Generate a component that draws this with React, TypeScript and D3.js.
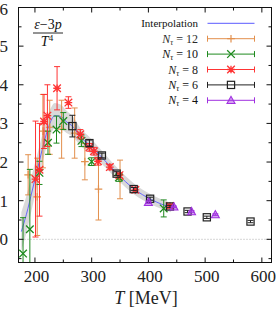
import React from 'react';
import * as d3 from 'd3';

// interpolation curve with its error band
const interpT = [176, 185, 195, 205, 215, 225, 235, 245, 255, 268, 280, 296, 318, 345, 375, 405, 440];
const interpV = [0.2, 0.65, 1.25, 1.85, 2.45, 2.95, 3.2, 3.18, 3.05, 2.9, 2.65, 2.45, 2.12, 1.7, 1.3, 1.03, 0.82];
const interpErr = [0.5, 0.48, 0.44, 0.4, 0.36, 0.34, 0.33, 0.31, 0.29, 0.26, 0.23, 0.2, 0.17, 0.15, 0.14, 0.13, 0.12];

const nt12T = [188, 204, 214, 226, 247, 270, 288, 312, 350];
const nt12V = [1.67, 1.1, 2.8, 2.9, 2.85, 2.75, 2.01, 1.3, 1.55];
const nt12E = [0.52, 1.0, 0.95, 0.7, 0.75, 0.65, 0.47, 0.8, 0.5];

const nt10T = [179, 191, 208, 223, 238, 250, 282, 300, 348, 427];
const nt10V = [-0.37, 0.26, 1.72, 2.5, 2.84, 3.06, 2.55, 2.01, 1.6, 0.8];
const nt10E = [0.93, 1.55, 0.3, 0.3, 0.35, 0.22, 0.15, 0.1, 0.1, 0.22];

const nt8T = [201, 208, 216, 222, 239, 259, 280, 296, 304, 311, 332, 349, 377, 438];
const nt8V = [1.56, 1.8, 3.05, 3.2, 3.91, 3.54, 2.72, 2.38, 2.28, 2.02, 1.87, 1.66, 1.28, 0.86];
const nt8E = [1.5, 1.2, 0.7, 0.8, 0.56, 0.15, 0.12, 0.1, 0.1, 0.1, 0.07, 0.06, 0.06, 0.05];

const nt6T = [266, 296, 318, 344, 374, 403, 438, 469, 503, 580];
const nt6V = [2.93, 2.49, 2.17, 1.7, 1.3, 1.05, 0.85, 0.72, 0.57, 0.46];
const nt6E = [0.28, 0.08, 0.06, 0.05, 0.04, 0.04, 0.03, 0.03, 0.03, 0.03];

const nt4T = [400, 445, 476, 518];
const nt4V = [0.96, 0.84, 0.72, 0.64];
const nt4E = [0.03, 0.02, 0.02, 0.02];

const xTicks = [200, 300, 400, 500, 600];
const yTicks = [0, 1, 2, 3, 4, 5, 6];

const W = 279;
const H = 313;
const font = '"Liberation Serif", "DejaVu Serif", serif';

const x = d3.scaleLinear().domain([171, 617]).range([18.5, 271.5]);
const y = d3.scaleLinear().domain([-0.6, 6]).range([262.5, 7.5]);

function Marker({ kind, cx, cy, color }) {
  const s = 3.8;
  if (kind === 'plus') {
    return <path d={`M${cx - s},${cy}H${cx + s}M${cx},${cy - s}V${cy + s}`} stroke={color} strokeWidth={1.2} fill="none" />;
  }
  if (kind === 'cross') {
    return <path d={`M${cx - s},${cy - s}L${cx + s},${cy + s}M${cx - s},${cy + s}L${cx + s},${cy - s}`} stroke={color} strokeWidth={1.3} fill="none" />;
  }
  if (kind === 'star') {
    return <path d={`M${cx - s},${cy}H${cx + s}M${cx},${cy - s}V${cy + s}M${cx - s},${cy - s}L${cx + s},${cy + s}M${cx - s},${cy + s}L${cx + s},${cy - s}`} stroke={color} strokeWidth={1.3} fill="none" />;
  }
  if (kind === 'square') {
    return <rect x={cx - 3.6} y={cy - 3.6} width={7.2} height={7.2} stroke={color} strokeWidth={1.2} fill="none" />;
  }
  return <path d={`M${cx - 4},${cy + 3.2}L${cx + 4},${cy + 3.2}L${cx},${cy - 4}Z`} stroke={color} strokeWidth={1.1} fill={color} fillOpacity={0.45} />;
}

function Series({ ts, vs, es, color, kind, opacity = 1 }) {
  const cap = 3;
  return (
    <g opacity={opacity}>
      {ts.map((t, i) => {
        const cx = x(t);
        const y1 = y(vs[i] + es[i]);
        const y2 = y(vs[i] - es[i]);
        return (
          <g key={i}>
            <path d={`M${cx},${y1}V${y2}M${cx - cap},${y1}H${cx + cap}M${cx - cap},${y2}H${cx + cap}`} stroke={color} strokeWidth={1} fill="none" />
            <Marker kind={kind} cx={cx} cy={y(vs[i])} color={color} />
          </g>
        );
      })}
    </g>
  );
}

const series = [
  { label: '12', ts: nt12T, vs: nt12V, es: nt12E, color: '#e0843a', kind: 'plus', opacity: 0.9 },
  { label: '10', ts: nt10T, vs: nt10V, es: nt10E, color: '#1f8a1f', kind: 'cross', opacity: 1 },
  { label: '8', ts: nt8T, vs: nt8V, es: nt8E, color: '#ff2a2a', kind: 'star', opacity: 0.95 },
  { label: '6', ts: nt6T, vs: nt6V, es: nt6E, color: '#222222', kind: 'square', opacity: 1 },
  { label: '4', ts: nt4T, vs: nt4V, es: nt4E, color: '#a030e0', kind: 'triangle', opacity: 1 },
];

export default function App() {
  const idx = d3.range(interpT.length);
  const band = d3
    .area()
    .x((i) => x(interpT[i]))
    .y0((i) => y(interpV[i] - interpErr[i]))
    .y1((i) => y(interpV[i] + interpErr[i]))
    .curve(d3.curveMonotoneX)(idx);
  const line = d3
    .line()
    .x((i) => x(interpT[i]))
    .y((i) => y(interpV[i]))
    .curve(d3.curveMonotoneX)(idx);

  const [x0, x1] = x.range();
  const [yb, yt] = y.range();
  const minorX = d3.range(250, 601, 100);
  const minorY = d3.range(-0.5, 6, 1);

  const legX1 = 207.5;
  const legX2 = 254.5;
  const legTextX = 198;
  const legY0 = 23.3;
  const legStep = 15.4;

  return (
    <svg width={W} height={H} style={{ position: 'absolute', left: 0, top: 0, background: '#fff' }}>
      <defs>
        <clipPath id="plot">
          <rect x={x0} y={yt} width={x1 - x0} height={yb - yt} />
        </clipPath>
      </defs>

      <line x1={x0} x2={x1} y1={y(0)} y2={y(0)} stroke="#999" strokeWidth={0.8} strokeDasharray="1,2" />

      <g clipPath="url(#plot)">
        <path d={band} fill="#cfcfcf" opacity={0.8} />
        <path d={line} fill="none" stroke="#5a5aff" strokeWidth={0.9} />
        {series.map((s) => (
          <Series key={s.label} {...s} />
        ))}
      </g>

      {/* frame and ticks */}
      <rect x={x0} y={yt} width={x1 - x0} height={yb - yt} fill="none" stroke="#111" strokeWidth={1} />
      {xTicks.map((t) => (
        <g key={t}>
          <line x1={x(t)} x2={x(t)} y1={yb} y2={yb - 5} stroke="#111" />
          <line x1={x(t)} x2={x(t)} y1={yt} y2={yt + 5} stroke="#111" />
          <text x={x(t) + 1.5} y={282} textAnchor="middle" fontFamily={font} fontSize={17} fill="#222">{t}</text>
        </g>
      ))}
      {minorX.map((t) => (
        <g key={t}>
          <line x1={x(t)} x2={x(t)} y1={yb} y2={yb - 3} stroke="#111" />
          <line x1={x(t)} x2={x(t)} y1={yt} y2={yt + 3} stroke="#111" />
        </g>
      ))}
      {yTicks.map((v) => (
        <g key={v}>
          <line x1={x0} x2={x0 + 5} y1={y(v)} y2={y(v)} stroke="#111" />
          <line x1={x1} x2={x1 - 5} y1={y(v)} y2={y(v)} stroke="#111" />
          <text x={8} y={y(v) + (v === 6 ? 7 : 6)} textAnchor="end" fontFamily={font} fontSize={17} fill="#222">{v}</text>
        </g>
      ))}
      {minorY.map((v) => (
        <g key={v}>
          <line x1={x0} x2={x0 + 3} y1={y(v)} y2={y(v)} stroke="#111" />
          <line x1={x1} x2={x1 - 3} y1={y(v)} y2={y(v)} stroke="#111" />
        </g>
      ))}

      {/* axis label */}
      <text x={146} y={304} textAnchor="middle" fontFamily={font} fontSize={18} fill="#222">
        <tspan fontStyle="italic">T</tspan> [MeV]
      </text>

      {/* y label as fraction */}
      <text x={48} y={29} textAnchor="middle" fontFamily={font} fontSize={14} fill="#111">
        <tspan fontStyle="italic">ε</tspan>−3<tspan fontStyle="italic">p</tspan>
      </text>
      <line x1={33} x2={63} y1={33} y2={33} stroke="#111" strokeWidth={0.9} />
      <text x={47} y={46} textAnchor="middle" fontFamily={font} fontSize={14} fill="#111">
        <tspan fontStyle="italic">T</tspan>
        <tspan fontSize={9} dy={-5}>4</tspan>
      </text>

      {/* legend */}
      <text x={legTextX} y={legY0 + 3.5} textAnchor="end" fontFamily={font} fontSize={11} fill="#111">Interpolation</text>
      <line x1={legX1} x2={legX2} y1={legY0} y2={legY0} stroke="#5a5aff" strokeWidth={1} />
      {series.map((s, i) => {
        const ly = legY0 + legStep * (i + 1);
        const mid = (legX1 + legX2) / 2;
        return (
          <g key={s.label} opacity={s.opacity}>
            <text x={legTextX} y={ly + 4} textAnchor="end" fontFamily={font} fontSize={12} fill="#111">
              <tspan fontStyle="italic">N</tspan>
              <tspan fontStyle="italic" fontSize={8} dy={2}>τ</tspan>
              <tspan dy={-2}> = {s.label}</tspan>
            </text>
            <path d={`M${legX1},${ly}H${legX2}M${legX1},${ly - 3}V${ly + 3}M${legX2},${ly - 3}V${ly + 3}`} stroke={s.color} strokeWidth={1} fill="none" />
            <Marker kind={s.kind} cx={mid} cy={ly} color={s.color} />
          </g>
        );
      })}
    </svg>
  );
}
